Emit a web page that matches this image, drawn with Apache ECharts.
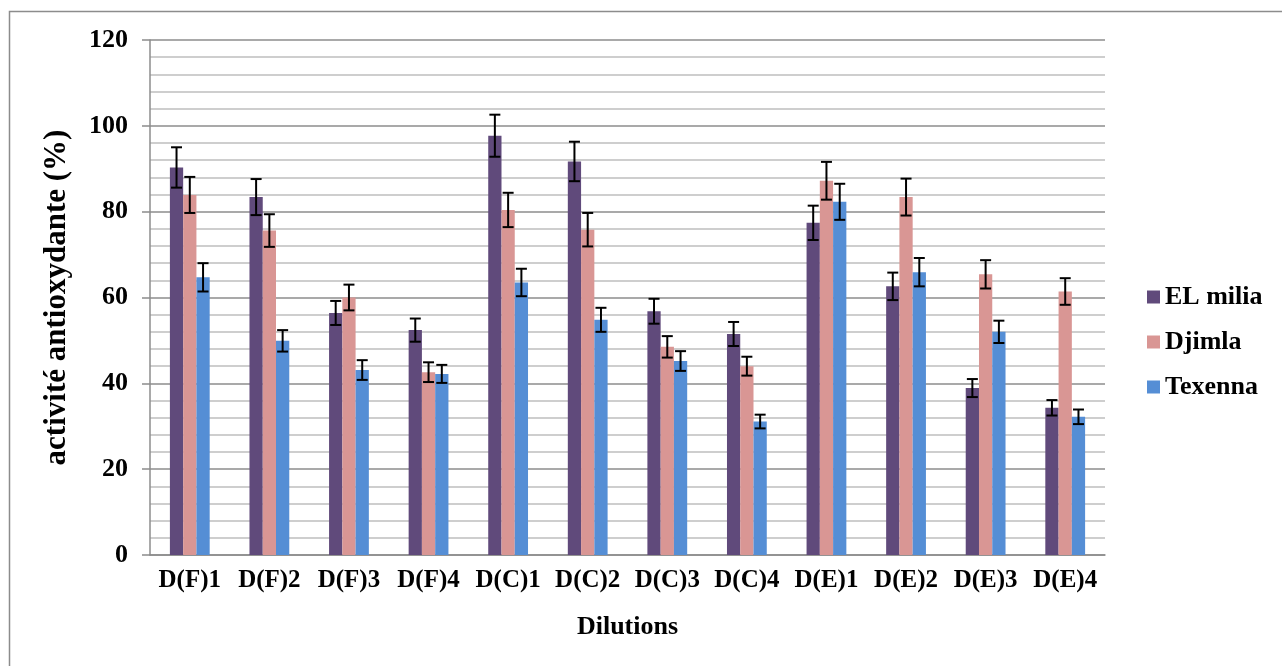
<!DOCTYPE html>
<html>
<head>
<meta charset="utf-8">
<script src="https://cdn.jsdelivr.net/npm/echarts@6/dist/echarts.min.js"></script>
<style>html,body{margin:0;padding:0;background:#fff;}#c{width:1282px;height:666px;}</style>
</head>
<body>
<div id="c"></div>
<script>
const categories = ['D(F)1','D(F)2','D(F)3','D(F)4','D(C)1','D(C)2','D(C)3','D(C)4','D(E)1','D(E)2','D(E)3','D(E)4'];
const seriesNames = ['EL milia','Djimla','Texenna'];
const elMilia = [90.3, 83.4, 56.4, 52.4, 97.7, 91.7, 56.8, 51.5, 77.4, 62.6, 38.9, 34.3];
const djimla  = [83.9, 75.6, 60.0, 42.6, 80.4, 75.8, 48.5, 44.0, 87.2, 83.4, 65.4, 61.4];
const texenna = [64.7, 49.9, 43.1, 42.2, 63.5, 54.8, 45.2, 31.1, 82.3, 65.9, 52.0, 32.2];
const elMiliaErr = [4.7, 4.2, 2.8, 2.7, 4.9, 4.6, 2.9, 2.8, 4.0, 3.2, 2.1, 1.8];
const djimlaErr  = [4.2, 3.8, 3.0, 2.3, 4.0, 3.9, 2.5, 2.2, 4.4, 4.3, 3.3, 3.1];
const texennaErr = [3.3, 2.5, 2.3, 2.1, 3.2, 2.8, 2.3, 1.6, 4.2, 3.3, 2.6, 1.7];
const colors = ['#604A7B', '#D99694', '#558ED5'];

const values = [elMilia, djimla, texenna];
const errs = [elMiliaErr, djimlaErr, texennaErr];
const FONT = '"Liberation Serif", "Times New Roman", serif';

const chart = echarts.init(document.getElementById('c'));

const barSeries = seriesNames.map((name, i) => ({
  name: name,
  type: 'bar',
  data: values[i],
  itemStyle: { color: colors[i] },
  barGap: '0%',
  barCategoryGap: '50%',
  z: 2
}));

const errSeries = seriesNames.map((name, i) => ({
  type: 'custom',
  name: name + ' err',
  data: values[i].map((v, k) => [k, v, errs[i][k]]),
  z: 5,
  silent: true,
  renderItem: function (params, api) {
    const k = api.value(0), v = api.value(1), e = api.value(2);
    const band = api.size([1, 0])[0];
    const bw = band * 0.5 / 3;
    const c = api.coord([k, v]);
    const x = c[0] + (i - 1) * bw;
    const yTop = api.coord([k, v + e])[1];
    const yBot = api.coord([k, v - e])[1];
    const cap = 5.5;
    const st = { stroke: '#000', lineWidth: 2 };
    return {
      type: 'group',
      children: [
        { type: 'line', shape: { x1: x, y1: yTop, x2: x, y2: yBot }, style: st },
        { type: 'line', shape: { x1: x - cap, y1: yTop, x2: x + cap, y2: yTop }, style: st },
        { type: 'line', shape: { x1: x - cap, y1: yBot, x2: x + cap, y2: yBot }, style: st }
      ]
    };
  }
}));

chart.setOption({
  animation: false,
  backgroundColor: '#fff',
  textStyle: { fontFamily: FONT },
  graphic: [{
    type: 'rect',
    shape: { x: 9.5, y: 11.5, width: 1300, height: 700 },
    style: { fill: 'none', stroke: '#8c8c8c', lineWidth: 1.5 },
    silent: true
  }],
  grid: { left: 150, top: 40, right: 177, bottom: 111 },
  legend: {
    orient: 'vertical',
    left: 1142,
    top: 279,
    itemWidth: 13,
    itemHeight: 13,
    itemGap: 19,
    icon: 'rect',
    data: seriesNames,
    textStyle: { fontFamily: FONT, fontWeight: 'bold', fontSize: 26, color: '#000' }
  },
  xAxis: {
    type: 'category',
    data: categories,
    name: 'Dilutions',
    nameLocation: 'middle',
    nameGap: 59,
    nameTextStyle: { fontFamily: FONT, fontWeight: 'bold', fontSize: 26, color: '#000' },
    axisLine: { lineStyle: { color: '#8c8c8c', width: 1.5 } },
    axisTick: { show: false },
    axisLabel: { fontFamily: FONT, fontWeight: 'bold', fontSize: 25, color: '#000', margin: 13, interval: 0 }
  },
  yAxis: {
    type: 'value',
    min: 0,
    max: 120,
    interval: 20,
    name: 'activité antioxydante (%)',
    nameLocation: 'middle',
    nameRotate: 90,
    nameGap: 78,
    nameTextStyle: { fontFamily: FONT, fontWeight: 'bold', fontSize: 31, color: '#000' },
    axisLine: { show: true, lineStyle: { color: '#8c8c8c', width: 1.5 } },
    axisTick: { show: true, length: 8, lineStyle: { color: '#8c8c8c', width: 1.5 } },
    axisLabel: { fontFamily: FONT, fontWeight: 'bold', fontSize: 26, color: '#000', margin: 22 },
    splitLine: { show: true, lineStyle: { color: '#8c8c8c', width: 1.5 } },
    minorTick: { show: false, splitNumber: 5 },
    minorSplitLine: { show: true, lineStyle: { color: '#bfbfbf', width: 1.5 } }
  },
  series: barSeries.concat(errSeries)
});
</script>
</body>
</html>
